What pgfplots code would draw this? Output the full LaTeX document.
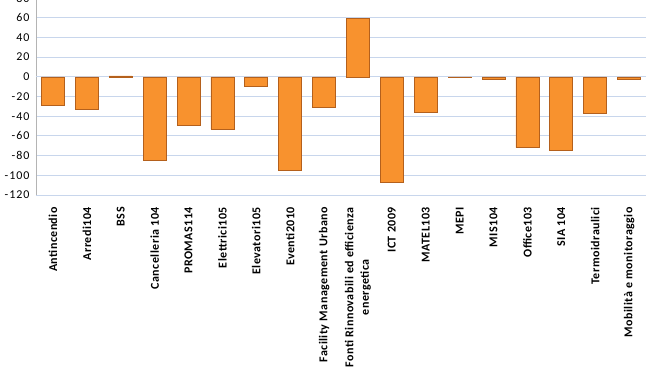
\documentclass[border=0pt]{standalone}
\usepackage{pgfplots}
\pgfplotsset{compat=1.18}
\usepackage{fontspec}
\setmainfont{Carlito}
\newfontfamily\lbl[LetterSpace=4]{Carlito}
\newfontfamily\ylbl[LetterSpace=8]{Carlito}
\definecolor{gridblue}{RGB}{200,214,236}
\definecolor{axgray}{RGB}{180,180,180}
\definecolor{barfill}{RGB}{248,146,46}
\definecolor{baredge}{RGB}{180,96,28}
\begin{document}
\begin{tikzpicture}
\begin{axis}[
  at={(36pt,177pt)}, anchor=south west,
  scale only axis, width=610pt, height=197pt,
  xmin=-0.5, xmax=17.5, ymin=-120, ymax=80,
  axis y line*=left, axis x line*=bottom,
  x axis line style={draw=none},
  y axis line style={draw=axgray, line width=0.8pt},
  ytick={-120,-100,...,80},
  yticklabels={-120,-100,-80,-60,-40,-20,0,20,40,60,80},
  ymajorgrids, major grid style={draw=gridblue, line width=0.9pt},
  major tick length=0pt,
  extra y ticks={0}, extra y tick labels={},
  extra y tick style={grid style={draw=axgray, line width=0.9pt}},
  yticklabel style={font=\ylbl\fontsize{12}{13}\selectfont, xshift=-3pt},
  xtick={0,...,17},
  xticklabels={Antincendio, Arredi104, BSS, Cancelleria 104, PROMAS114, Elettrici105, Elevatori105, Eventi2010, Facility Management Urbano, {Fonti Rinnovabili ed efficienza\\energetica}, ICT 2009, MATEL103, MEPI, MIS104, Office103, SIA 104, Termoidraulici, Mobilità e monitoraggio},
  xticklabel style={font=\lbl\bfseries\fontsize{12}{15.5}\selectfont, yshift=-12pt, rotate=90, anchor=east, align=center, inner sep=0pt},
  clip=false,
]
\addplot[ybar, bar width=23pt, draw=baredge, line width=0.6pt, fill=barfill]
  table[x=x, y=y] {
x y
0 -29
1 -33
2 1
3 -85
4 -49
5 -53
6 -10
7 -95
8 -31
9 59
10 -107
11 -36
12 -1
13 -3
14 -72
15 -75
16 -37
17 -3
};
\end{axis}
\pgfresetboundingbox
\useasboundingbox (0,0) rectangle (663pt,372pt);
\end{tikzpicture}
\end{document}
